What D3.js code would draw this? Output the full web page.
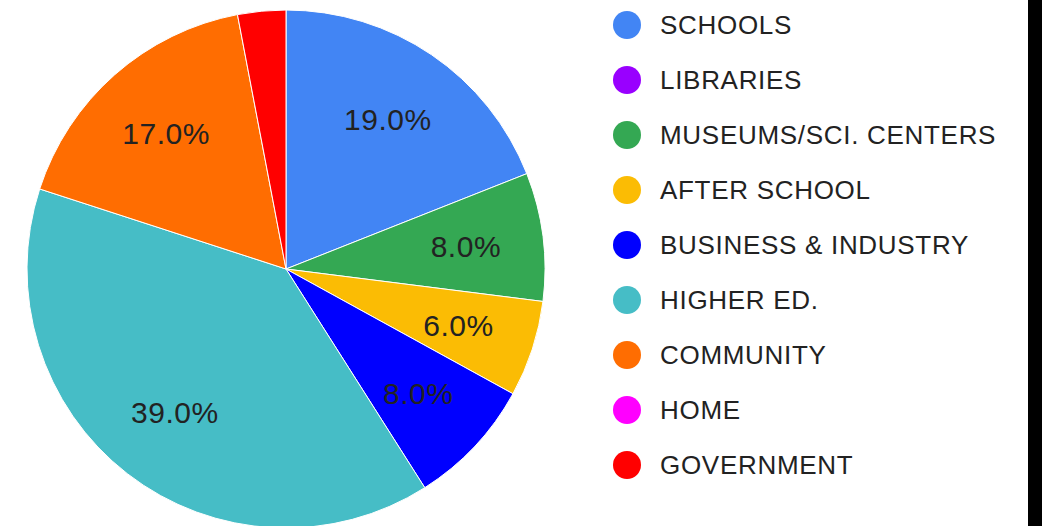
<!DOCTYPE html>
<html>
<head>
<meta charset="utf-8">
<script src="https://cdn.jsdelivr.net/npm/d3@7"></script>
<style>
  html, body { margin: 0; padding: 0; background: #fff; }
  svg { display: block; }
</style>
</head>
<body>
<div id="chart"></div>
<script>
// categories and their shares (percent)
const categories = ["SCHOOLS", "LIBRARIES", "MUSEUMS/SCI. CENTERS", "AFTER SCHOOL",
  "BUSINESS & INDUSTRY", "HIGHER ED.", "COMMUNITY", "HOME", "GOVERNMENT"];
const values = [19, 0, 8, 6, 8, 39, 17, 0, 3];
const colors = ["#4285f4", "#9900ff", "#34a853", "#fbbc04", "#0000ff",
  "#46bdc6", "#ff6d01", "#ff00ff", "#ff0000"];

const width = 1042, height = 526;
const cx = 286, cy = 269, radius = 259;

const svg = d3.select("#chart").append("svg")
  .attr("width", width)
  .attr("height", height);

const data = categories.map((c, i) => ({ name: c, value: values[i], color: colors[i] }));

const pie = d3.pie().value(d => d.value).sort(null);
const arc = d3.arc().innerRadius(0).outerRadius(radius);
const labelArc = d3.arc().innerRadius(radius * 0.7).outerRadius(radius * 0.7);

let g = svg.append("g").attr("transform", `translate(${cx},${cy})`);

const arcs = pie(data).filter(d => d.value > 0);

g.selectAll("path").data(arcs).enter().append("path")
  .attr("d", arc)
  .attr("fill", d => d.data.color)
  .attr("stroke", "#fff")
  .attr("stroke-width", 1);

// labels only for slices large enough
g.selectAll("text").data(arcs.filter(d => d.value >= 5)).enter().append("text")
  .attr("transform", d => `translate(${labelArc.centroid(d)})`)
  .attr("text-anchor", "middle")
  .attr("dy", "0.36em")
  .style("font-family", "'Liberation Sans', Arial, sans-serif")
  .style("font-size", "30px")
  .style("letter-spacing", "0.5px")
  .style("fill", "#222")
  .text(d => d.value.toFixed(1) + "%");

// legend
const legend = svg.append("g").attr("transform", "translate(627,25)");
const item = legend.selectAll("g").data(data).enter().append("g")
  .attr("transform", (d, i) => `translate(0,${i * 55})`);

item.append("circle")
  .attr("r", 14)
  .attr("fill", d => d.color);

item.append("text")
  .attr("x", 33)
  .attr("dy", "0.36em")
  .style("font-family", "'Liberation Sans', Arial, sans-serif")
  .style("font-size", "26px")
  .style("letter-spacing", "0.7px")
  .style("fill", "#222")
  .text(d => d.name);

// dark strip on the right edge
svg.append("rect")
  .attr("x", 1028).attr("y", 0)
  .attr("width", 14).attr("height", height)
  .attr("fill", "#000");
</script>
</body>
</html>
